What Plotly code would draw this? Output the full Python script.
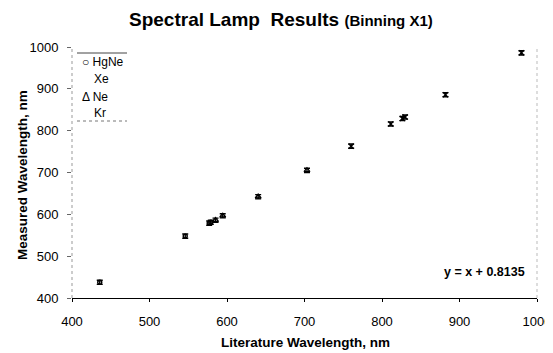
import plotly.graph_objects as go

# Data (literature vs measured wavelength, nm)
hgne_lit = [435.8, 546.1, 577.0, 579.1]
hgne_meas = [437.5, 548.0, 579.0, 581.0]
ne_lit = [585.2, 594.5, 640.2, 703.2]
ne_meas = [586.0, 596.5, 642.0, 705.0]
kr_lit = [760.2, 811.3, 826.3, 829.8]
kr_meas = [763.0, 816.0, 829.0, 832.5]
xe_lit = [881.9, 979.97]
xe_meas = [886.0, 986.0]

x_ticks = [400, 500, 600, 700, 800, 900, 1000]
y_ticks = [400, 500, 600, 700, 800, 900, 1000]

FONT = "Liberation Sans, Arial, sans-serif"

fig = go.Figure()

def add(name, xs, ys, symbol, size):
    fig.add_trace(go.Scatter(
        x=xs, y=ys, mode="markers", name=name, showlegend=False,
        marker=dict(symbol=symbol, size=size, color="black",
                    line=dict(color="black", width=1.4)),
        error_y=dict(type="constant", value=5, color="black", thickness=1.4, width=3),
    ))

add("HgNe", hgne_lit, hgne_meas, "circle-open", 4)
add("Xe", xe_lit, xe_meas, "x-thin-open", 5)
add("Ne", ne_lit, ne_meas, "triangle-up-open", 5)
add("Kr", kr_lit, kr_meas, "x-thin-open", 5)

# page body has an 8px margin: the figure is drawn at (8, 8)
OFF = 8
W, H = 553 - OFF, 353 - OFF
# target plot box in screen pixels: x 72..537, y 47..298
L = 72 - OFF
T = 47 - OFF
R = W - (537 - OFF)
B = H - (298 - OFF)
PW, PH = W - L - R, H - T - B

def px(xs):
    return (xs - OFF - L) / PW

def py(ys):
    return (H - B - (ys - OFF)) / PH

annotations = [
    dict(text="<b>Spectral Lamp  Results</b> <b><span style='font-size:15px'>(Binning X1)</span></b>",
         x=px(281), y=py(19), xref="paper", yref="paper", xanchor="center", yanchor="middle",
         showarrow=False, font=dict(family=FONT, size=19, color="black")),
    dict(text="<b>Literature Wavelength, nm</b>", x=px(305), y=py(342), xref="paper", yref="paper",
         xanchor="center", yanchor="middle", showarrow=False,
         font=dict(family=FONT, size=13.5, color="black")),
    dict(text="<b>Measured Wavelength, nm</b>", x=px(22), y=py(175), xref="paper", yref="paper",
         xanchor="center", yanchor="middle", showarrow=False, textangle=-90,
         font=dict(family=FONT, size=13.5, color="black")),
    dict(text="<b>y = x + 0.8135</b>", x=px(527), y=py(272), xref="paper", yref="paper",
         xanchor="right", yanchor="middle", showarrow=False,
         font=dict(family=FONT, size=12.5, color="black")),
]

# manual legend
legend_items = [("○ HgNe", 62), ("Xe", 79), ("Δ Ne", 97), ("Kr", 113)]
for txt, yy in legend_items:
    xx = 80 if txt.startswith(("○", "Δ")) else 92
    annotations.append(dict(text=txt, x=px(xx), y=py(yy), xref="paper", yref="paper",
                            xanchor="left", yanchor="middle", showarrow=False,
                            font=dict(family=FONT, size=12, color="black")))

shapes = [
    dict(type="line", xref="paper", yref="paper", x0=px(77), x1=px(127), y0=py(53), y1=py(53),
         line=dict(color="#444", width=1)),
    dict(type="line", xref="paper", yref="paper", x0=px(77), x1=px(127), y0=py(121), y1=py(121),
         line=dict(color="#777", width=1, dash="dot")),
    dict(type="line", xref="paper", yref="paper", x0=1, x1=1, y0=0, y1=1,
         line=dict(color="#bbb", width=1, dash="dot")),
    dict(type="line", xref="paper", yref="paper", x0=0, x1=0, y0=0, y1=1,
         line=dict(color="#999", width=1, dash="dot")),
]

fig.update_layout(
    width=W, height=H,
    margin=dict(l=L, r=R, t=T, b=B),
    paper_bgcolor="white", plot_bgcolor="white",
    font=dict(family=FONT, size=13, color="black"),
    showlegend=False,
    xaxis=dict(
        range=[400, 1000], tickvals=x_ticks, ticktext=[str(v) for v in x_ticks],
        showgrid=False, zeroline=False, automargin=False,
        showline=True, linecolor="black", linewidth=1.3,
        ticks="outside", ticklen=3, tickcolor="black",
        ticklabelstandoff=8,
        tickfont=dict(family=FONT, size=13),
    ),
    yaxis=dict(
        range=[400, 1000], tickvals=y_ticks, ticktext=[str(v) for v in y_ticks],
        showgrid=False, zeroline=False, automargin=False,
        showline=False,
        ticks="outside", ticklen=4, tickcolor="#666",
        ticklabelstandoff=6,
        tickfont=dict(family=FONT, size=13),
    ),
    annotations=annotations,
    shapes=shapes,
)

fig.write_html("out.html")
